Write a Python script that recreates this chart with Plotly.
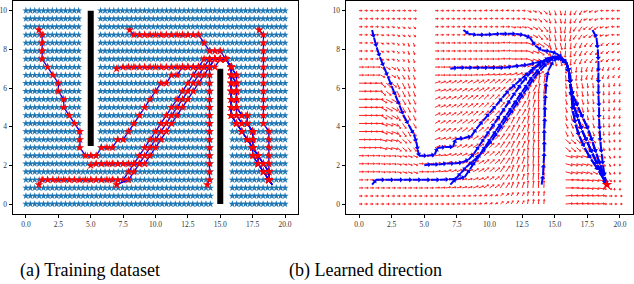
import math
import numpy as np
import plotly.graph_objects as go

# ---------------- data ----------------
train_grid_x = np.linspace(0, 20, 60)     # training sample columns
field_grid_x = np.linspace(0, 20, 49)     # quiver columns
grid_y = np.linspace(0, 10, 25)           # rows (both panels)
cell = 10 / 24                            # trajectory lattice step

left_wall_x, left_wall_y = [5, 5], [3, 10]
right_wall_x, right_wall_y = [15, 15], [0, 7]
goal = (19, 1)

x_ticks = [0, 2.5, 5, 7.5, 10, 12.5, 15, 17.5, 20]
x_tick_labels = ["0.0", "2.5", "5.0", "7.5", "10.0", "12.5", "15.0", "17.5", "20.0"]
y_ticks = [0, 2, 4, 6, 8, 10]
y_tick_labels = ["0", "2", "4", "6", "8", "10"]

# training trajectories: real start point + lattice indices (i, j)
R1 = [(38,17),(38,16),(38,15),(38,14),(38,13),(38,12),(38,11),(39,10),(40,9),(41,8),(42,7),(43,6),(44,5),(45,4),(45,3)]
R2 = [(38,17),(39,16),(39,15),(39,14),(39,13),(39,12),(39,11),(40,10),(41,10),(42,9),(42,8),(42,7),(43,6),(43,5),(44,4),(45,3)]
R3 = [(38,17),(38,16),(39,15),(39,14),(39,13),(39,12),(40,11),(41,11),(41,10),(42,9),(42,8),(42,7),(42,6),(43,5),(44,4),(45,3)]
corner = [(34,18),(35,18),(36,18),(37,18)]

traj_A = [(3,21),(3,20),(3,19),(3,18),(4,17),(5,16),(6,15),(6,14),(7,13),(7,12),(8,11),(9,10),(10,9),(10,8),(10,7),
          (11,6),(12,6),(13,6),(14,7),(15,7),(16,7),(17,8),(18,8),(19,9),(20,10),(21,11),(22,12),(23,13),(24,14),(25,15),
          (26,15),(27,16),(28,16),(29,17),(30,17),(31,17),(32,17),(33,17),(34,17),(35,17),(36,18),(37,18)] + R1
traj_B = [(3,3),(4,3),(5,3),(6,3),(7,3),(8,3),(9,3),(10,3),(11,3),(12,3),(13,3),(14,3),(15,3),(16,3),(17,3),(18,3),
          (19,4),(20,5),(21,6),(22,7),(23,8),(24,9),(25,10),(26,11),(27,12),(28,13),(29,14),(30,15),(31,16),(32,17),(33,18)] + corner + R2
traj_C = [(19,3),(20,4),(21,5),(22,6),(23,7),(24,8),(25,9),(26,10),(27,11),(28,12),(29,13),(30,14),(31,15),(32,16),(33,17)] + corner + R1
traj_D = [(13,5),(14,5),(15,5),(16,5),(17,5),(18,5),(19,5),(20,5),(21,5),(22,5),(23,6),(24,7),(25,8),(26,9),(27,10),(28,11),
          (29,12),(30,13),(31,14),(32,15),(33,16),(34,17),(35,18),(36,18),(37,18)] + R3
traj_E = [(18,17),(19,17),(20,17),(21,17),(22,17),(23,17),(24,17),(25,17),(26,17),(27,17),(28,17),(29,17),(30,17),(31,17),
          (32,17),(33,17),(34,17),(35,18),(36,18),(37,18)] + R2
traj_F = [(20,21),(21,21),(22,21),(23,21),(24,21),(25,21),(26,21),(27,21),(28,21),(29,21),(30,21),(31,21),(32,21),(33,20),
          (34,19),(35,19),(36,19),(37,18)] + R1
traj_G = [(34,3),(34,4),(34,5),(34,6),(34,7),(34,8),(34,9),(34,10),(34,11),(34,12),(34,13),(34,14),(34,15),(34,16),(34,17)] + corner + R3
traj_H = [(44,21),(44,20),(44,19),(44,18),(44,17),(44,16),(44,15),(44,14),(44,13),(44,12),(44,11),(44,10),
          (45,9),(45,8),(45,7),(45,6),(45,5),(45,4),(45,3)]
train_starts = [(1, 9), (1, 1), (7, 1), (5, 2), (7, 7), (8, 9), (14, 1), (18, 9)]
train_paths = [traj_A, traj_B, traj_C, traj_D, traj_E, traj_F, traj_G, traj_H]

# learned rollouts (right panel), real coordinates
D1 = [(15.9,7.3),(16.1,6.8),(16.2,6.2),(16.3,5.6),(16.5,5.0),(16.8,4.4),(17.1,3.8),(17.5,3.2),(17.9,2.6),(18.3,2.0),(18.7,1.4),(19.0,1.0)]
D2 = [(15.9,7.3),(16.1,6.8),(16.2,6.2),(16.3,5.5),(16.4,4.8),(16.6,4.1),(16.9,3.5),(17.3,2.9),(17.8,2.3),(18.4,1.7),(19.0,1.0)]
D3 = [(15.9,7.3),(16.1,6.8),(16.2,6.2),(16.4,5.6),(16.8,5.0),(17.2,4.4),(17.6,3.8),(17.9,3.2),(18.2,2.6),(18.5,2.0),(18.8,1.4),(19.0,1.0)]
learn_A = [(1.0,9.0),(1.15,8.6),(1.35,8.1),(1.6,7.6),(1.9,7.1),(2.2,6.6),(2.5,6.1),(2.8,5.6),(3.1,5.1),(3.4,4.6),(3.8,4.1),
           (4.2,3.6),(4.4,3.2),(4.5,2.8),(4.6,2.5),(5.2,2.5),(5.8,2.55),(6.0,2.9),(6.6,2.95),(7.2,2.95),(7.4,3.35),(8.0,3.4),
           (8.6,3.5),(9.0,3.9),(9.5,4.3),(10.0,4.7),(10.5,5.1),(11.0,5.5),(11.5,5.9),(12.0,6.2),(12.5,6.5),(13.0,6.8),
           (13.5,7.1),(14.0,7.35),(14.5,7.55),(15.0,7.6),(15.5,7.5)] + D1
learn_B = [(1.0,1.0),(1.3,1.25),(2.0,1.25),(2.7,1.25),(3.4,1.25),(4.1,1.25),(4.8,1.25),(5.5,1.25),(6.2,1.25),(6.9,1.28),
           (7.6,1.3),(8.1,1.4),(8.5,1.8),(8.9,2.2),(9.3,2.6),(9.7,3.0),(10.1,3.4),(10.5,3.8),(10.9,4.2),(11.3,4.6),
           (11.7,5.0),(12.1,5.4),(12.5,5.8),(12.9,6.2),(13.3,6.6),(13.8,7.0),(14.3,7.35),(14.8,7.55),(15.4,7.55)] + D2
learn_C = [(7.0,1.0),(7.4,1.3),(7.8,1.6),(8.2,1.9),(8.7,2.2),(9.2,2.5),(9.7,2.9),(10.2,3.3),(10.6,3.7),(11.0,4.1),(11.4,4.5),
           (11.8,4.9),(12.2,5.3),(12.6,5.7),(13.0,6.1),(13.4,6.5),(13.9,6.9),(14.4,7.3),(14.9,7.55),(15.4,7.6)] + D3
learn_D = [(5.0,2.0),(5.5,2.05),(6.1,2.05),(6.7,2.1),(7.3,2.1),(7.9,2.15),(8.4,2.3),(8.8,2.6),(9.2,3.0),(9.6,3.4),(10.0,3.8),
           (10.4,4.2),(10.8,4.6),(11.2,5.0),(11.6,5.4),(12.0,5.8),(12.4,6.2),(12.9,6.6),(13.4,7.0),(14.0,7.3),(14.6,7.5),(15.1,7.6)] + D1
learn_E = [(7.0,7.0),(7.5,7.05),(8.1,7.05),(8.7,7.05),(9.3,7.05),(9.9,7.05),(10.5,7.05),(11.1,7.05),(11.7,7.1),(12.3,7.15),
           (12.9,7.2),(13.5,7.3),(14.1,7.4),(14.7,7.55),(15.2,7.6)] + D2
learn_F = [(8.0,9.0),(8.4,8.8),(9.0,8.75),(9.6,8.75),(10.2,8.78),(10.8,8.8),(11.4,8.8),(12.0,8.8),(12.6,8.75),(13.1,8.6),
           (13.5,8.2),(14.0,7.95),(14.6,7.9),(15.1,7.8),(15.5,7.6)] + D1
learn_G = [(14.0,1.0),(14.1,1.5),(14.15,2.1),(14.2,2.7),(14.2,3.3),(14.2,3.9),(14.25,4.5),(14.25,5.1),(14.3,5.7),(14.35,6.3),
           (14.5,6.9),(14.9,7.4),(15.4,7.6)] + D3
learn_H = [(17.9,9.0),(18.2,8.6),(18.3,8.0),(18.35,7.4),(18.35,6.8),(18.35,6.2),(18.35,5.6),(18.4,5.0),(18.4,4.4),(18.45,3.8),
           (18.5,3.2),(18.6,2.6),(18.7,2.0),(18.85,1.4),(19.0,1.0)]
learned_paths = [learn_A, learn_B, learn_C, learn_D, learn_E, learn_F, learn_G, learn_H]

# learned direction field, read on a 1-unit lattice (rows y=10..0, cols x=0..20)
field_angle = [
    [0,0,0,0,0, 0, 0,0,0,0,5,5,0,-20,-45,-75,-100,-120,-160,180,180],
    [0,0,-10,-30,-40, 0, 0,0,0,0,0,0,-10,-30,-50,-80,-100,-125,-145,-165,180],
    [0,0,-20,-50,-70, 0, 0,0,0,0,0,5,0,-20,-35,-75,-95,-115,-125,-135,-145],
    [0,0,-30,-60,-70, 0, 0,0,0,5,10,15,20,25,35,-80,-85,-95,-105,-110,-120],
    [0,0,-40,-65,-70, 0, 20,25,30,30,35,40,45,60,80,-85,-80,-78,-82,-90,-100],
    [0,0,-30,-60,-65, 0, 25,30,35,40,45,50,60,75,88,-80,-75,-72,-78,-90,-100],
    [0,0,-20,-55,-60, 0, 30,35,35,40,45,55,65,80,88,-70,-65,-62,-70,-88,-100],
    [0,0,-15,-40,-50,-30, 20,25,30,35,45,55,65,80,88,-45,-40,-40,-50,-75,-95],
    [0,0,-5,-15,-20, 0, 10,20,25,30,40,55,70,85,88,-15,-15,-15,-25,-60,-95],
    [0,0,0,0,0, 0, 5,10,15,20,35,55,70,85,88,0,0,-5,-10,-30,-90],
    [0,0,0,0,0, 0, 0,0,5,10,20,40,60,80,85,5,5,5,5,0,0],
]
field_len = [
    [3,3,3,3,3, 3, 3,3,3,3,3,3,3,4,5,5,5,5,4,3,3],
    [3,3,3,3,3, 3, 3,3,3,3,3,4,5,6,7,7,7,6,5,4,3],
    [3,3,3,3,4, 3, 4,4,4,4,5,5,6,7,8,8,7,6,5,4,3],
    [5,5,5,5,5, 4, 5,5,5,5,6,6,7,7,7,8,7,6,5,4,3],
    [8,8,7,7,6, 4, 6,6,6,7,7,7,7,8,9,7,6,6,5,4,3],
    [9,9,8,7,6, 4, 6,6,7,7,7,7,8,9,9,7,6,6,5,4,3],
    [9,9,8,7,6, 4, 6,6,7,7,7,8,8,9,9,7,6,6,5,4,3],
    [7,7,7,6,5, 4, 6,6,6,7,7,8,8,9,9,7,7,6,5,3,2],
    [5,5,5,5,5, 5, 6,6,6,7,7,8,8,9,9,8,8,7,6,3,2],
    [4,4,4,4,4, 4, 5,5,5,6,6,7,7,8,8,9,9,8,7,3,2],
    [3,3,3,3,3, 3, 3,3,3,3,3,4,4,5,5,8,8,8,7,3,2],
]

# ---------------- geometry ----------------
W, H = 634, 284
L_DOM = (13 / W, 298 / W)
R_DOM = (346 / W, 633 / W)
Y_DOM = ((H - 213.7) / H, (H - 1) / H)
XR, YR = [-1, 21], [-0.5, 10.5]
SX_R = (633 - 346) / 22
SY = 212.7 / 11
LEN_SCALE = 0.8
FIELD_RED = "#ff2020"
SERIF = "Liberation Serif, Times New Roman, DejaVu Serif, serif"


def blocked(x, y):
    return (abs(x - 5) < 0.6 and y > 2.9) or (abs(x - 15) < 0.6 and y < 7.1)


fig = go.Figure()

# ---- left panel ----
sx, sy = [], []
for y in grid_y:
    for x in train_grid_x:
        if not blocked(x, y):
            sx.append(x)
            sy.append(y)
fig.add_trace(go.Scatter(x=sx, y=sy, mode="markers", xaxis="x", yaxis="y",
                         marker=dict(symbol="star", size=5.5, color="#1f77b4", line=dict(width=0))))
for wx, wy in [(left_wall_x, left_wall_y), (right_wall_x, right_wall_y)]:
    fig.add_trace(go.Scatter(x=wx, y=wy, mode="lines", xaxis="x", yaxis="y",
                             line=dict(color="black", width=6)))
for st, path in zip(train_starts, train_paths):
    px = [st[0]] + [i * cell for i, j in path] + [goal[0]]
    py = [st[1]] + [j * cell for i, j in path] + [goal[1]]
    fig.add_trace(go.Scatter(x=px, y=py, mode="lines", xaxis="x", yaxis="y",
                             line=dict(color="blue", width=1.3)))
    fig.add_trace(go.Scatter(x=px[:-1], y=py[:-1], mode="markers", xaxis="x", yaxis="y",
                             marker=dict(symbol="star", size=6.5, color="red", line=dict(width=0))))

# ---- right panel: field ----
shx, shy, hx, hy, hang = [], [], [], [], []
for y in grid_y:
    for x in field_grid_x:
        if blocked(x, y):
            continue
        r = 10 - int(round(y))
        c = int(round(x))
        a = math.radians(field_angle[r][c])
        ln = field_len[r][c] * LEN_SCALE
        ex = x + ln * math.cos(a) / SX_R
        ey = y + ln * math.sin(a) / SY
        shx += [x, ex, None]
        shy += [y, ey, None]
        hx.append(ex)
        hy.append(ey)
        hang.append(90 - field_angle[r][c])
fig.add_trace(go.Scatter(x=shx, y=shy, mode="lines", xaxis="x2", yaxis="y2",
                         line=dict(color=FIELD_RED, width=1)))
fig.add_trace(go.Scatter(x=hx, y=hy, mode="markers", xaxis="x2", yaxis="y2",
                         marker=dict(symbol="triangle-up", size=2.5, angle=hang,
                                     color=FIELD_RED, line=dict(width=0))))

# ---- right panel: learned rollouts ----
bx, by, bhx, bhy, bang = [], [], [], [], []
for path in learned_paths:
    for (x0, y0), (x1, y1) in zip(path[:-1], path[1:]):
        ex = x0 + 0.75 * (x1 - x0)
        ey = y0 + 0.75 * (y1 - y0)
        bx += [x0, ex, None]
        by += [y0, ey, None]
        bhx.append(ex)
        bhy.append(ey)
        bang.append(90 - math.degrees(math.atan2((y1 - y0) * SY, (x1 - x0) * SX_R)))
fig.add_trace(go.Scatter(x=bx, y=by, mode="lines", xaxis="x2", yaxis="y2",
                         line=dict(color="blue", width=2)))
fig.add_trace(go.Scatter(x=bhx, y=bhy, mode="markers", xaxis="x2", yaxis="y2",
                         marker=dict(symbol="triangle-up", size=4.5, angle=bang, color="blue", line=dict(width=0))))
fig.add_trace(go.Scatter(x=[goal[0]], y=[goal[1]], mode="markers", xaxis="x2", yaxis="y2",
                         marker=dict(symbol="star", size=8, color="red", line=dict(width=0))))

tick_font = dict(family=SERIF, size=7.5, color="#333")
ax_common = dict(showline=True, mirror=True, linecolor="black", linewidth=1, showgrid=False, zeroline=False,
                 ticks="outside", ticklen=3.5, tickwidth=0.8, tickcolor="black", tickfont=tick_font,
                 automargin=False)

fig.update_layout(
    width=W, height=H, margin=dict(l=0, r=0, t=0, b=0, autoexpand=False),
    paper_bgcolor="white", plot_bgcolor="white", showlegend=False,
    font=dict(family=SERIF),
    xaxis=dict(domain=list(L_DOM), range=XR, tickvals=x_ticks, ticktext=x_tick_labels, anchor="y", **ax_common),
    yaxis=dict(domain=list(Y_DOM), range=YR, tickvals=y_ticks, ticktext=y_tick_labels, anchor="x", **ax_common),
    xaxis2=dict(domain=list(R_DOM), range=XR, tickvals=x_ticks, ticktext=x_tick_labels, anchor="y2", **ax_common),
    yaxis2=dict(domain=list(Y_DOM), range=YR, tickvals=y_ticks, ticktext=y_tick_labels, anchor="x2", **ax_common),
    annotations=[
        dict(text="(a) Training dataset", x=18 / W, y=(H - 270) / H, xref="paper", yref="paper",
             xanchor="left", yanchor="middle", showarrow=False,
             font=dict(family=SERIF, size=18, color="black")),
        dict(text="(b) Learned direction", x=287 / W, y=(H - 270) / H, xref="paper", yref="paper",
             xanchor="left", yanchor="middle", showarrow=False,
             font=dict(family=SERIF, size=18, color="black")),
    ],
)

fig.write_html("out.html", config={"displayModeBar": False},
               post_script="document.body.style.margin='0';document.body.style.overflow='hidden';")
